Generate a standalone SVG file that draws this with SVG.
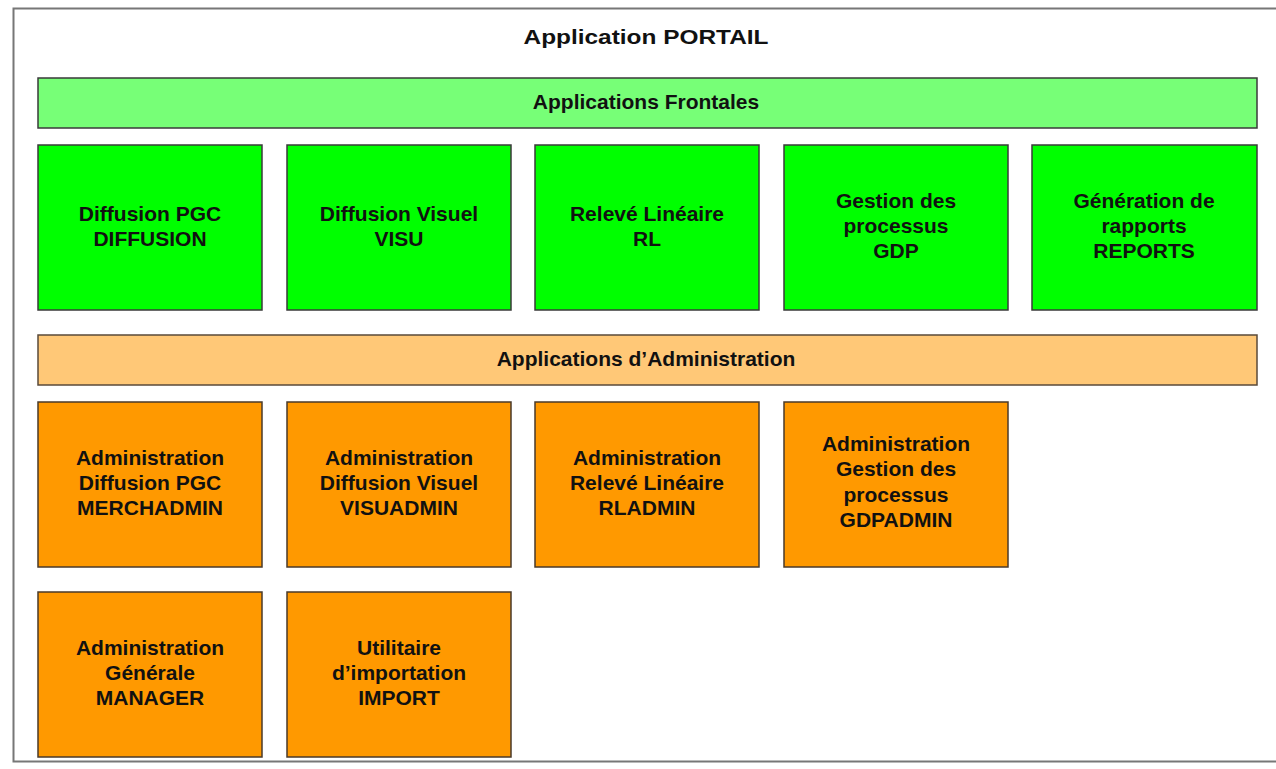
<svg xmlns="http://www.w3.org/2000/svg" width="1276" height="769" viewBox="0 0 1276 769">
<style>
text{font-family:"Liberation Sans",Arial,sans-serif;font-weight:bold;font-size:21px;fill:#111;text-anchor:middle}
.bar1{fill:#77FF77;stroke:#3a3a3a;stroke-width:1.5}
.box1{fill:#00FF00;stroke:#3a3a3a;stroke-width:1.5}
.bar2{fill:#FFC877;stroke:#5a4a3a;stroke-width:1.5}
.box2{fill:#FF9900;stroke:#4a3a2a;stroke-width:1.5}
</style>
<rect x="13.5" y="8.5" width="1280" height="753" fill="#fff" stroke="#777" stroke-width="2"/>
<text x="646" y="44" font-size="23" textLength="245" lengthAdjust="spacingAndGlyphs">Application PORTAIL</text>
<g id="frontales"><rect class="bar1" x="38" y="78" width="1219" height="50"/><text x="646" y="109">Applications Frontales</text></g>
<g id="diffusion"><rect class="box1" x="38" y="145" width="224" height="165"/><text x="150" y="221">Diffusion PGC</text><text x="150" y="246">DIFFUSION</text></g>
<g id="visu"><rect class="box1" x="287" y="145" width="224" height="165"/><text x="399" y="221">Diffusion Visuel</text><text x="399" y="246">VISU</text></g>
<g id="rl"><rect class="box1" x="535" y="145" width="224" height="165"/><text x="647" y="221">Relevé Linéaire</text><text x="647" y="246">RL</text></g>
<g id="gdp"><rect class="box1" x="784" y="145" width="224" height="165"/><text x="896" y="208">Gestion des</text><text x="896" y="233">processus</text><text x="896" y="258">GDP</text></g>
<g id="reports"><rect class="box1" x="1032" y="145" width="225" height="165"/><text x="1144" y="208">Génération de</text><text x="1144" y="233">rapports</text><text x="1144" y="258">REPORTS</text></g>
<g id="administration"><rect class="bar2" x="38" y="335" width="1219" height="50"/><text x="646" y="366">Applications d’Administration</text></g>
<g id="merchadmin"><rect class="box2" x="38" y="402" width="224" height="165"/><text x="150" y="465">Administration</text><text x="150" y="490">Diffusion PGC</text><text x="150" y="515">MERCHADMIN</text></g>
<g id="visuadmin"><rect class="box2" x="287" y="402" width="224" height="165"/><text x="399" y="465">Administration</text><text x="399" y="490">Diffusion Visuel</text><text x="399" y="515">VISUADMIN</text></g>
<g id="rladmin"><rect class="box2" x="535" y="402" width="224" height="165"/><text x="647" y="465">Administration</text><text x="647" y="490">Relevé Linéaire</text><text x="647" y="515">RLADMIN</text></g>
<g id="gdpadmin"><rect class="box2" x="784" y="402" width="224" height="165"/><text x="896" y="451">Administration</text><text x="896" y="476">Gestion des</text><text x="896" y="502">processus</text><text x="896" y="527">GDPADMIN</text></g>
<g id="manager"><rect class="box2" x="38" y="592" width="224" height="165"/><text x="150" y="655">Administration</text><text x="150" y="680">Générale</text><text x="150" y="705">MANAGER</text></g>
<g id="import"><rect class="box2" x="287" y="592" width="224" height="165"/><text x="399" y="655">Utilitaire</text><text x="399" y="680">d’importation</text><text x="399" y="705">IMPORT</text></g>
<g id="connectors"/>
</svg>
